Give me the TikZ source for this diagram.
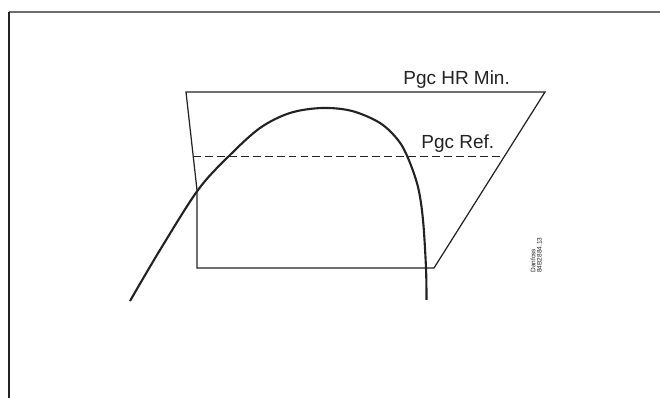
\documentclass[tikz,border=0pt]{standalone}
\usepackage{fontspec}
\setmainfont{Liberation Sans}
\usepackage{tikz}
\usetikzlibrary{positioning}
\definecolor{framegrey}{HTML}{6E6E6E}
\definecolor{inkblack}{HTML}{222222}

\begin{document}
\begin{tikzpicture}[
  x=0.02cm, y=-0.02cm,
  boundary/.style={draw=inkblack, line width=0.7pt, line join=miter},
  satcurve/.style={draw=inkblack, line width=1.2pt},
  reflevel/.style={draw=inkblack, line width=0.45pt, dash pattern=on 4.5pt off 2.3pt},
  lbl/.style={font=\fontsize{10.8}{13}\selectfont, text=inkblack, inner sep=0pt, anchor=base west},
  stamp/.style={font=\fontsize{3.7}{3.6}\selectfont, text=inkblack, align=left, rotate=90, inner sep=0pt, anchor=south west}
]
  \useasboundingbox (0,0) rectangle (660,398);
  % frame
  \draw[framegrey, line width=1.1pt] (9,12) -- (660,12);
  \draw[inkblack, line width=0.9pt] (9,12) -- (9,398);

  % operating envelope
  \coordinate (tl) at (186,92);
  \coordinate (tr) at (545,92);
  \coordinate (br) at (434,268);
  \coordinate (bl) at (197,268);
  \coordinate (kink) at (197,190);
  \draw[boundary] (tl) -- (tr) -- (br) -- (bl) -- (kink) -- cycle;

  % reference pressure
  \coordinate (refl) at (193,156);
  \coordinate (refr) at (505,156);
  \draw[reflevel] (refl) -- (refr);

  % saturation curve
  \draw[satcurve] plot[smooth, tension=0.55] coordinates {(130,301) (160,250) (198,190) (229,156) (260,128) (290,113) (322,108) (352,111) (380,123) (398,140) (408,158) (418,187) (423,220) (426,268) (426.5,300)};

  \node[lbl] (hrmin) at (403,85) {Pgc HR Min.};
  \node[lbl] (pref) at (421,149) {Pgc Ref.};
  \node[stamp] (code) at (542,273) {Danfoss\\84B2884.13};
\end{tikzpicture}
\end{document}
